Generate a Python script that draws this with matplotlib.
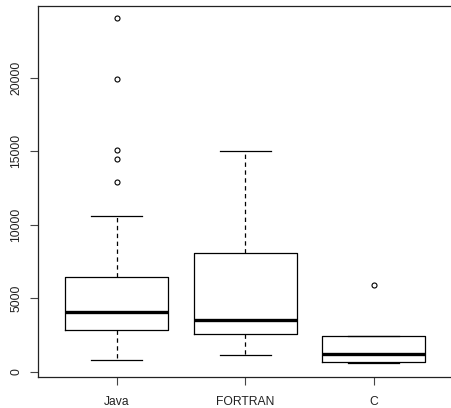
import matplotlib
matplotlib.use("Agg")
import matplotlib.pyplot as plt

plt.rcParams['font.family'] = ['Liberation Sans', 'DejaVu Sans']

# Summary statistics per language (lines of code)
languages = ["Java", "FORTRAN", "C"]
q1 = [2830, 2540, 660]
median = [4060, 3510, 1180]
q3 = [6420, 8100, 2400]
whisker_low = [800, 1150, 600]
whisker_high = [10600, 15000, 2450]
outliers = [[12880, 14500, 15080, 19930, 24040], [], [5900]]

stats = []
for i, name in enumerate(languages):
    stats.append({
        "label": name,
        "q1": q1[i], "med": median[i], "q3": q3[i],
        "whislo": whisker_low[i], "whishi": whisker_high[i],
        "fliers": outliers[i],
    })

fig = plt.figure(figsize=(4.51, 4.08), dpi=100)
ax = fig.add_axes([37.7 / 451, 31 / 408, 415 / 451, 371.3 / 408])

ax.bxp(stats, positions=[1, 2, 3], widths=0.8, capwidths=0.4,
       boxprops=dict(color="black", linewidth=0.9),
       medianprops=dict(color="black", linewidth=2.4, solid_capstyle="butt"),
       whiskerprops=dict(color="black", linewidth=0.9, linestyle=(0, (3.5, 2.8))),
       capprops=dict(color="black", linewidth=0.9),
       flierprops=dict(marker="o", markersize=3.6, markerfacecolor="none",
                       markeredgecolor="black", markeredgewidth=0.8))

ax.set_xlim(0.385, 3.615)
ax.set_ylim(-363, 24896)
ax.set_yticks([0, 5000, 10000, 15000, 20000])
ax.set_yticklabels(["0", "5000", "10000", "15000", "20000"], rotation=90,
                   va="center", fontsize=8.7, color="#222222")
ax.set_xticks([1, 2, 3])
ax.set_xticklabels(languages, fontsize=8.7, color="#222222")
ax.tick_params(axis="both", length=6, width=0.8, color="#444444")
ax.tick_params(axis="y", pad=5)
ax.tick_params(axis="x", pad=8)
for s in ax.spines.values():
    s.set_linewidth(0.9)
    s.set_color("#222222")

fig.savefig("out.png", dpi=100)
